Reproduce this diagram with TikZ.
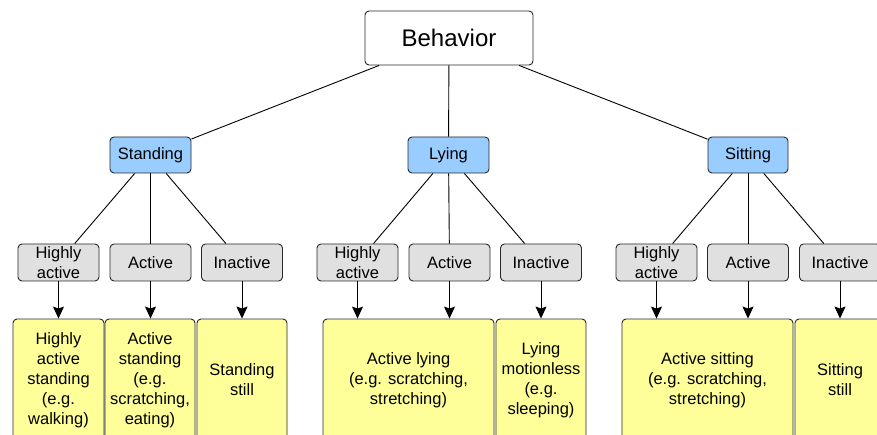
\documentclass[tikz,border=0pt]{standalone}
\usepackage{fontspec}
\setmainfont{Liberation Sans}
\usetikzlibrary{arrows.meta}
\definecolor{bluefill}{RGB}{153,204,255}
\definecolor{grayfill}{RGB}{224,224,224}
\definecolor{yellowfill}{RGB}{255,255,153}
\definecolor{edgecol}{RGB}{40,40,40}
\tikzset{
  base/.style={draw=edgecol, line width=0.9pt, rounded corners=4pt, inner sep=0pt, align=center,
    font=\fontsize{16.5}{20}\selectfont, text=black},
  rootbox/.style={base, fill=white, minimum width=168pt, minimum height=54pt, font=\fontsize{24}{28}\selectfont},
  posbox/.style={base, fill=bluefill, minimum width=81pt, minimum height=36pt},
  levelbox/.style={base, fill=grayfill, minimum width=81pt, minimum height=37pt},
  leafbox/.style={base, fill=yellowfill, minimum height=122pt},
  conn/.style={draw=black, line width=0.9pt},
  arr/.style={conn, -{Stealth[length=12pt,width=11pt,inset=2pt]}}
}
\begin{document}
\begin{tikzpicture}[x=1pt,y=-1pt]
\fill[white] (0,0) rectangle (877,435);
\useasboundingbox (0,0) rectangle (877,435);
\clip (0,0) rectangle (877,435);

\node[rootbox] (beh) at (449,38) {Behavior};

\node[posbox] (stand) at (150.5,155) {Standing};
\node[posbox] (lying) at (448.5,155) {Lying};
\node[posbox, minimum width=80pt] (sit) at (748,155) {Sitting};

\node[levelbox] (s1) at (58.5,262.5) {Highly\\active};
\node[levelbox] (s2) at (150.5,262.5) {Active};
\node[levelbox] (s3) at (242,262.5) {Inactive};
\node[levelbox] (l1) at (357.5,262.5) {Highly\\active};
\node[levelbox] (l2) at (449.5,262.5) {Active};
\node[levelbox] (l3) at (541,262.5) {Inactive};
\node[levelbox] (t1) at (656.5,262.5) {Highly\\active};
\node[levelbox] (t2) at (748,262.5) {Active};
\node[levelbox] (t3) at (840,262.5) {Inactive};

\node[leafbox, minimum width=91pt] (ys1) at (58.5,380) {Highly\\active\\standing\\(e.g.\\walking)};
\node[leafbox, minimum width=90pt] (ys2) at (150,380) {Active\\standing\\(e.g.\\scratching,\\eating)};
\node[leafbox, minimum width=90pt] (ys3) at (242,380) {Standing\\still};
\node[leafbox, minimum width=171pt] (yl1) at (408.5,380) {Active lying\\(e.g. scratching,\\stretching)};
\node[leafbox, minimum width=90pt] (yl2) at (541,380) {Lying\\motionless\\(e.g.\\sleeping)};
\node[leafbox, minimum width=171pt] (yt1) at (707.5,380) {Active sitting\\(e.g. scratching,\\stretching)};
\node[leafbox, minimum width=90pt] (yt2) at (840,380) {Sitting\\still};

\draw[conn] (beh) -- (stand);
\draw[conn] (beh) -- (lying);
\draw[conn] (beh) -- (sit);
\foreach \p/\a/\b/\c in {stand/s1/s2/s3, lying/l1/l2/l3, sit/t1/t2/t3}{
  \draw[conn] (\p) -- (\a);
  \draw[conn] (\p) -- (\b);
  \draw[conn] (\p) -- (\c);
}
\draw[arr] (s1.south) -- (ys1.north);
\draw[arr] (s2.south) -- (s2.south |- ys2.north);
\draw[arr] (s3.south) -- (ys3.north);
\draw[arr] (l1.south) -- (l1.south |- yl1.north);
\draw[arr] (l2.south) -- (l2.south |- yl1.north);
\draw[arr] (l3.south) -- (yl2.north);
\draw[arr] (t1.south) -- (t1.south |- yt1.north);
\draw[arr] (t2.south) -- (t2.south |- yt1.north);
\draw[arr] (t3.south) -- (yt2.north);
\end{tikzpicture}
\end{document}
